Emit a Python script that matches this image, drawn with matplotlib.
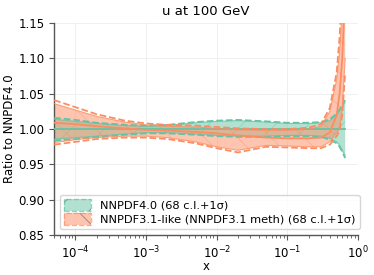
import matplotlib
matplotlib.use("Agg")
import matplotlib.pyplot as plt
from matplotlib.patches import Patch
import numpy as np

# x grid of the PDF ratio
xgrid = [5e-5, 1e-4, 2e-4, 5e-4, 1e-3, 2e-3, 5e-3, 1e-2, 2e-2, 5e-2,
         0.1, 0.2, 0.3, 0.4, 0.5, 0.55, 0.6, 0.66]

# NNPDF4.0 (reference, central = 1)
n40_cv = [1.0] * len(xgrid)
n40_up68 = [1.014, 1.011, 1.008, 1.005, 1.004, 1.005, 1.009, 1.011, 1.012, 1.010,
            1.008, 1.008, 1.009, 1.012, 1.020, 1.026, 1.032, 1.038]
n40_dn68 = [0.986, 0.988, 0.990, 0.993, 0.995, 0.995, 0.993, 0.991, 0.990, 0.990,
            0.991, 0.991, 0.990, 0.987, 0.982, 0.977, 0.970, 0.962]
n40_up1s = [1.016, 1.013, 1.009, 1.006, 1.005, 1.006, 1.010, 1.012, 1.013, 1.011,
            1.009, 1.009, 1.010, 1.014, 1.022, 1.028, 1.035, 1.041]
n40_dn1s = [0.984, 0.986, 0.989, 0.992, 0.994, 0.994, 0.992, 0.990, 0.989, 0.989,
            0.990, 0.990, 0.989, 0.985, 0.980, 0.975, 0.968, 0.959]

# NNPDF3.1-like
n31_cv = [1.009, 1.007, 1.004, 1.001, 0.999, 0.998, 0.996, 0.994, 0.991, 0.988,
          0.987, 0.987, 0.988, 0.995, 1.020, 1.050, 1.100, 1.200]
n31_up68 = [1.036, 1.027, 1.018, 1.010, 1.006, 1.004, 1.003, 1.001, 0.999, 0.998,
            0.998, 1.000, 1.004, 1.025, 1.070, 1.110, 1.170, 1.300]
n31_dn68 = [0.981, 0.985, 0.988, 0.990, 0.990, 0.988, 0.982, 0.975, 0.970, 0.977,
            0.976, 0.975, 0.975, 0.982, 0.995, 1.000, 1.030, 1.100]
n31_up1s = [1.041, 1.031, 1.021, 1.012, 1.008, 1.006, 1.005, 1.003, 1.001, 1.000,
            1.000, 1.002, 1.007, 1.030, 1.080, 1.130, 1.200, 1.350]
n31_dn1s = [0.978, 0.982, 0.986, 0.988, 0.988, 0.986, 0.980, 0.973, 0.967, 0.975,
            0.974, 0.973, 0.973, 0.978, 0.990, 0.998, 1.020, 1.080]

labels = ["NNPDF4.0 (68 c.l.+1σ)", "NNPDF3.1-like (NNPDF3.1 meth) (68 c.l.+1σ)"]
colors = ["#66c2a5", "#fc8d62"]
hatches = ["/", "\\"]

plt.rcParams["font.size"] = 8.5
plt.rcParams["hatch.linewidth"] = 0.5

fig = plt.figure(figsize=(3.74, 2.75), dpi=100)
ax = fig.add_axes([0.145, 0.145, 0.812, 0.771])

series = [
    (n40_cv, n40_up68, n40_dn68, n40_up1s, n40_dn1s),
    (n31_cv, n31_up68, n31_dn68, n31_up1s, n31_dn1s),
]
handles = []
for (cv, up, dn, u1, d1), c, h, lab in zip(series, colors, hatches, labels):
    ax.fill_between(xgrid, dn, up, facecolor=c, alpha=0.5, hatch=h,
                    edgecolor=c, linewidth=0, zorder=2)
    ax.plot(xgrid, cv, color=c, lw=1.3, zorder=3)
    ax.plot(xgrid, up, color=c, lw=0.8, alpha=0.8, zorder=3)
    ax.plot(xgrid, dn, color=c, lw=0.8, alpha=0.8, zorder=3)
    ax.plot(xgrid, u1, color=c, lw=1.3, ls="--", zorder=3)
    ax.plot(xgrid, d1, color=c, lw=1.3, ls="--", zorder=3)
    fillh = Patch(facecolor=matplotlib.colors.to_rgba(c, 0.5), hatch=h,
                  edgecolor="#777777", linewidth=0)
    edgeh = Patch(facecolor="none", edgecolor=matplotlib.colors.to_rgba(c, 0.7),
                  linestyle="--", linewidth=1.0)
    handles.append((fillh, edgeh))

ax.set_xscale("log")
ax.set_xlim(5e-5, 1.0)
ax.set_ylim(0.85, 1.15)
ax.set_yticks([0.85, 0.90, 0.95, 1.00, 1.05, 1.10, 1.15])
ax.grid(True, color="#eeeeee", lw=0.6)
ax.set_axisbelow(True)
for s in ["top", "right"]:
    ax.spines[s].set_visible(False)
for s in ["left", "bottom"]:
    ax.spines[s].set_color("#555555")
    ax.spines[s].set_linewidth(1.0)
ax.tick_params(which="both", color="#555555")

ax.set_title("u at 100 GeV", fontsize=9.5)
ax.set_ylabel("Ratio to NNPDF4.0", labelpad=2)
ax.set_xlabel("x", labelpad=-1)
ax.legend(handles, labels, loc="lower left", fontsize=8.2, handlelength=2.3,
          handleheight=1.2, borderpad=0.4, labelspacing=0.2, framealpha=0.8)

fig.savefig("out.png", dpi=100)
